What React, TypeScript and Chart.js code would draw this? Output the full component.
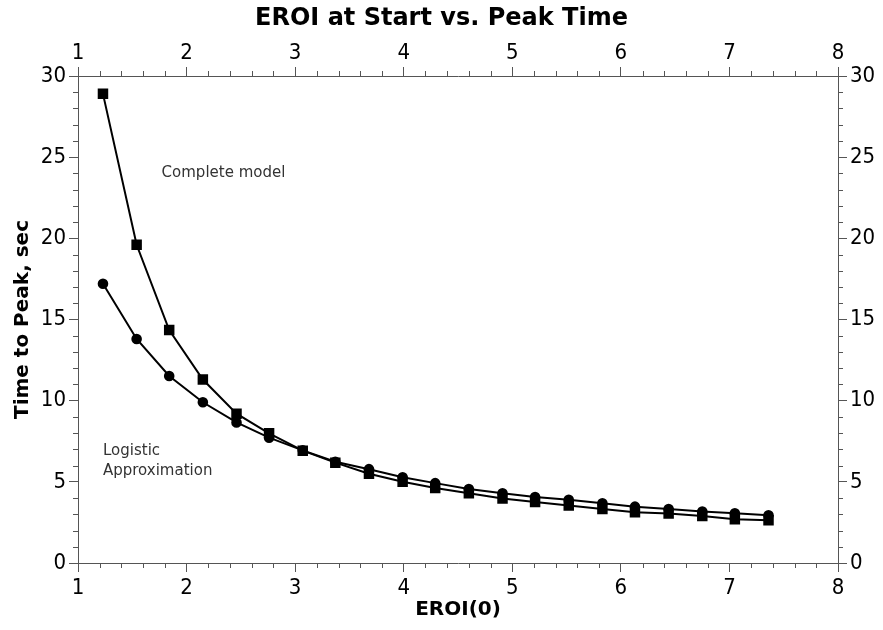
import React, { useEffect, useRef } from 'react';
import { Chart, registerables } from 'chart.js';

Chart.register(...registerables);

// ---- data ----
const eroi = [1.23, 1.54, 1.84, 2.15, 2.46, 2.76, 3.07, 3.37, 3.68, 3.99, 4.29, 4.6, 4.91, 5.21, 5.52, 5.83, 6.13, 6.44, 6.75, 7.05, 7.36];
const completeModel = [28.9, 19.6, 14.35, 11.3, 9.2, 7.99, 6.92, 6.18, 5.5, 5.01, 4.62, 4.3, 3.98, 3.76, 3.54, 3.32, 3.13, 3.05, 2.9, 2.7, 2.64];
const logisticApprox = [17.2, 13.8, 11.52, 9.9, 8.66, 7.72, 6.94, 6.24, 5.78, 5.28, 4.92, 4.56, 4.3, 4.06, 3.9, 3.68, 3.47, 3.32, 3.17, 3.06, 2.94];

const titleText = 'EROI at Start vs. Peak Time';
const xTitle = 'EROI(0)';
const yTitle = 'Time to Peak, sec';
const xMin = 1, xMax = 8, xStep = 1, xMinorStep = 0.2;
const yMin = 0, yMax = 30, yStep = 5, yMinorStep = 1;

const labelComplete = { text: 'Complete model', x: 1.77, y: 24.0 };
const labelLogistic = { lines: ['Logistic', 'Approximation'], x: 1.23, y: 6.9, y2: 5.65 };

const FONT_C = "'DejaVu Sans Condensed', 'DejaVu Sans', Verdana, sans-serif";
const FONT = "'DejaVu Sans', Verdana, sans-serif";
const AXIS = '#555555';

const minorTicksPlugin = {
  id: 'minorTicks',
  afterDraw(chart: any) {
    const ctx = chart.ctx as CanvasRenderingContext2D;
    const { x, x2, y, y2 } = chart.scales;
    ctx.save();
    ctx.strokeStyle = AXIS;
    ctx.lineWidth = 1;
    ctx.beginPath();
    const nx = Math.round((xMax - xMin) / xMinorStep);
    for (let i = 0; i <= nx; i++) {
      if (i % Math.round(xStep / xMinorStep) === 0) continue;
      const v = xMin + i * xMinorStep;
      const px = Math.round(x.getPixelForValue(v)) + 0.5;
      ctx.moveTo(px, x.top);
      ctx.lineTo(px, x.top + 5);
      ctx.moveTo(px, x2.bottom);
      ctx.lineTo(px, x2.bottom - 5);
    }
    const ny = Math.round((yMax - yMin) / yMinorStep);
    for (let i = 0; i <= ny; i++) {
      if (i % Math.round(yStep / yMinorStep) === 0) continue;
      const v = yMin + i * yMinorStep;
      const py = Math.round(y.getPixelForValue(v)) + 0.5;
      ctx.moveTo(y.right, py);
      ctx.lineTo(y.right - 5, py);
      ctx.moveTo(y2.left, py);
      ctx.lineTo(y2.left + 5, py);
    }
    ctx.stroke();

    // annotations
    ctx.fillStyle = '#333333';
    ctx.font = `15px ${FONT}`;
    ctx.textAlign = 'left';
    ctx.textBaseline = 'middle';
    ctx.fillText(labelComplete.text, x.getPixelForValue(labelComplete.x), y.getPixelForValue(labelComplete.y));
    ctx.fillText(labelLogistic.lines[0], x.getPixelForValue(labelLogistic.x), y.getPixelForValue(labelLogistic.y));
    ctx.fillText(labelLogistic.lines[1], x.getPixelForValue(labelLogistic.x), y.getPixelForValue(labelLogistic.y2));
    ctx.restore();
  },
};

export default function App() {
  const ref = useRef<HTMLCanvasElement | null>(null);

  useEffect(() => {
    if (!ref.current) return;
    const tickFont = { family: FONT_C, size: 22 };
    const axisTitleFont = { family: FONT, size: 20, weight: 'bold' as const };
    const xTickCfg = { stepSize: xStep, color: '#000', font: tickFont, maxRotation: 0, autoSkip: false };
    const yTickCfg = { stepSize: yStep, color: '#000', font: tickFont, autoSkip: false };
    const gridCfg = { drawOnChartArea: false, drawTicks: true, tickLength: 9, color: AXIS, lineWidth: 1 };
    const borderCfg = { display: true, color: AXIS, width: 1 };

    const chart = new Chart(ref.current, {
      type: 'scatter',
      data: {
        datasets: [
          {
            label: 'Complete model',
            data: eroi.map((e, i) => ({ x: e, y: completeModel[i] })),
            showLine: true,
            borderColor: '#000',
            borderWidth: 2,
            backgroundColor: '#000',
            pointBackgroundColor: '#000',
            pointBorderColor: '#000',
            pointStyle: 'rect',
            pointRadius: 6,
            xAxisID: 'x',
            yAxisID: 'y',
          },
          {
            label: 'Logistic Approximation',
            data: eroi.map((e, i) => ({ x: e, y: logisticApprox[i] })),
            showLine: true,
            borderColor: '#000',
            borderWidth: 2,
            backgroundColor: '#000',
            pointBackgroundColor: '#000',
            pointBorderColor: '#000',
            pointStyle: 'circle',
            pointRadius: 4.3,
            xAxisID: 'x',
            yAxisID: 'y',
          },
        ],
      },
      options: {
        responsive: false,
        animation: false,
        layout: { padding: 0 },
        plugins: {
          legend: { display: false },
          tooltip: { enabled: false },
          title: {
            display: true,
            text: titleText,
            color: '#000',
            font: { family: FONT, size: 24, weight: 'bold' },
            padding: { top: 4, bottom: 0 },
          },
        },
        scales: {
          x: {
            type: 'linear',
            position: 'bottom',
            min: xMin,
            max: xMax,
            ticks: { ...xTickCfg, padding: 3 },
            grid: gridCfg,
            border: borderCfg,
            title: { display: true, text: xTitle, color: '#000', font: axisTitleFont, padding: { top: 0, bottom: 8 } },
            afterFit: (s: any) => { s.height = 67; },
          },
          x2: {
            type: 'linear',
            position: 'top',
            min: xMin,
            max: xMax,
            ticks: { ...xTickCfg, padding: 1 },
            grid: gridCfg,
            border: borderCfg,
            afterFit: (s: any) => { s.height = 43.2; },
          },
          y: {
            type: 'linear',
            position: 'left',
            min: yMin,
            max: yMax,
            ticks: { ...yTickCfg, padding: 3 },
            grid: gridCfg,
            border: borderCfg,
            title: { display: true, text: yTitle, color: '#000', font: axisTitleFont, padding: { top: 11, bottom: 0 } },
            afterFit: (s: any) => { s.width = 78; },
          },
          y2: {
            type: 'linear',
            position: 'right',
            min: yMin,
            max: yMax,
            ticks: { ...yTickCfg, padding: 3 },
            grid: gridCfg,
            border: borderCfg,
            afterFit: (s: any) => { s.width = 45; },
          },
        },
      } as any,
      plugins: [minorTicksPlugin],
    });
    return () => chart.destroy();
  }, []);

  return (
    <div style={{ position: 'absolute', left: 0, top: 0, width: 883, height: 630, background: '#fff' }}>
      <canvas ref={ref} width={883} height={630} style={{ display: 'block' }} />
    </div>
  );
}
